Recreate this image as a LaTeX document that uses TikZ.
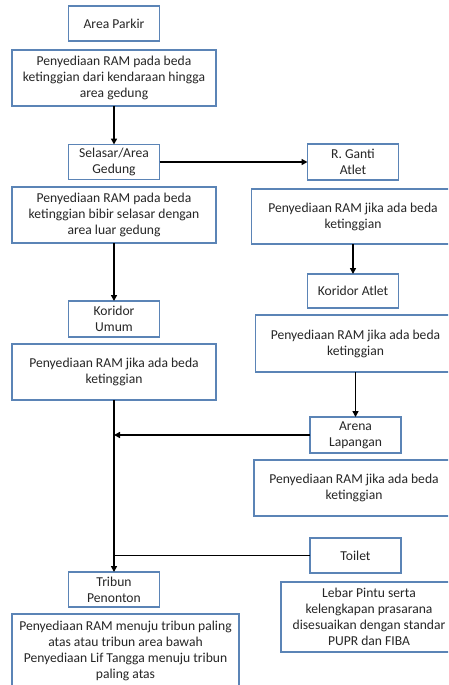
\documentclass[tikz,border=0pt]{standalone}
\usepackage{fontspec}
\setmainfont{Carlito}
\usetikzlibrary{arrows.meta}
\definecolor{boxblue}{HTML}{5B84B6}
\definecolor{txt}{HTML}{262626}
\begin{document}
\begin{tikzpicture}[x=1pt,y=-1pt,
  box/.style={draw=boxblue,line width=1.4pt,fill=white,align=center,text=txt,
    font=\fontsize{13.6}{16}\selectfont,inner sep=0pt,outer sep=0pt},
  conn/.style={line width=1.8pt,black},
  arr/.style={conn,-{Triangle[length=6pt,width=6pt]}}]
\useasboundingbox (0,0) rectangle (448,685);
\clip (0,0) rectangle (448,685);
% left column
\node[box,minimum width=91pt,minimum height=35pt] (park) at (114,23.5) {Area Parkir};
\node[box,minimum width=204pt,minimum height=56pt] (ram1) at (114,78) {Penyediaan RAM pada beda\\ketinggian dari kendaraan hingga\\area gedung};
\node[box,minimum width=91pt,minimum height=35pt] (selasar) at (114,162) {Selasar/Area\\Gedung};
\node[box,minimum width=204pt,minimum height=56pt] (ram2) at (114,215) {Penyediaan RAM pada beda\\ketinggian bibir selasar dengan\\area luar gedung};
\node[box,minimum width=91pt,minimum height=36pt] (korum) at (114,319) {Koridor\\Umum};
\node[box,minimum width=204pt,minimum height=56pt] (ram3) at (114,372) {Penyediaan RAM jika ada beda\\ketinggian};
\node[box,minimum width=91pt,minimum height=35pt] (tribun) at (114,589.5) {Tribun\\Penonton};
\node[box,minimum width=227pt,minimum height=74pt] (ram4) at (125.5,651) {Penyediaan RAM menuju tribun paling\\atas atau tribun area bawah\\Penyediaan Lif Tangga menuju tribun\\paling atas};
% right column
\node[box,minimum width=91pt,minimum height=36pt] (ganti) at (353,162) {R. Ganti\\Atlet};
\node[box,minimum width=203pt,minimum height=55pt] (ramr1) at (353,216.5) {Penyediaan RAM jika ada beda\\ketinggian};
\node[box,minimum width=91pt,minimum height=34pt] (koratlet) at (353,291) {Koridor Atlet};
\node[box,minimum width=200pt,minimum height=57pt] (ramr2) at (355.5,343.5) {Penyediaan RAM jika ada beda\\ketinggian};
\node[box,minimum width=91pt,minimum height=36pt] (arena) at (355.5,435) {Arena\\Lapangan};
\node[box,minimum width=200pt,minimum height=56pt] (ramr3) at (354,488) {Penyediaan RAM jika ada beda\\ketinggian};
\node[box,minimum width=91pt,minimum height=35pt] (toilet) at (355.5,555.5) {Toilet};
\node[box,minimum width=176pt,minimum height=70pt] (tdesc) at (369,617) {Lebar Pintu serta\\kelengkapan prasarana\\disesuaikan dengan standar\\PUPR dan FIBA};
% connectors
\coordinate (j1) at (ram3.south |- arena.west);
\coordinate (j2) at (ram3.south |- toilet.west);
\draw[arr] (ram1.south) -- (selasar.north);
\draw[arr] (selasar.east) -- (ganti.west);
\draw[arr] (ram2.south) -- (korum.north);
\draw[arr] (ramr1.south -| koratlet.north) -- (koratlet.north);
\draw[arr] (ramr2.south -| arena.north) -- (arena.north);
\draw[arr] (ram3.south) -- (tribun.north);
\draw[arr] (arena.west) -- (j1);
\draw[conn] (toilet.west) -- (j2);
\end{tikzpicture}
\end{document}
